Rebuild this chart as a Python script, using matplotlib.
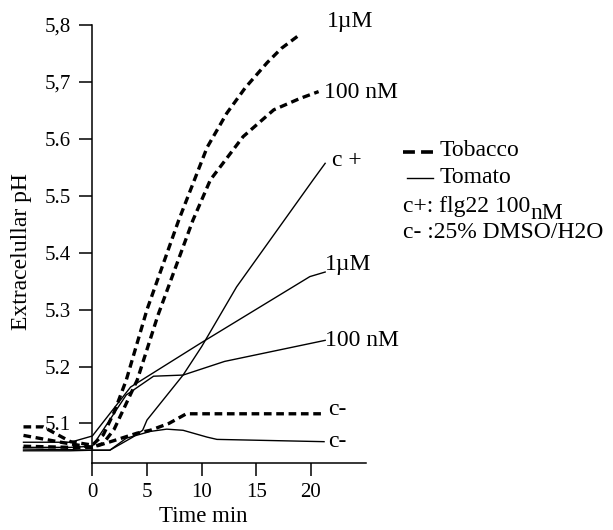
import matplotlib
matplotlib.use("Agg")
import matplotlib.pyplot as plt
from matplotlib.lines import Line2D

plt.rcParams['font.family'] = ['Liberation Serif', 'DejaVu Serif']

# ---- data (time in min, extracellular pH) ----
tob_1uM_t = [-6.3, -4.5, -2.0, 0, 1.0, 2.0, 3.1, 5.0, 7.9, 10.5, 12.3, 14.0, 16.0, 17.3, 18.9]
tob_1uM = [5.094, 5.094, 5.068, 5.062, 5.08, 5.12, 5.176, 5.30, 5.457, 5.585, 5.645, 5.69, 5.734, 5.759, 5.782]

tob_100nM_t = [-6.3, -2.3, 0, 1.0, 2.0, 4.1, 6.0, 9.2, 10.8, 13.8, 16.6, 19.0, 20.7]
tob_100nM = [5.079, 5.065, 5.058, 5.065, 5.09, 5.176, 5.29, 5.457, 5.528, 5.604, 5.651, 5.671, 5.683]

tob_cneg_t = [-6.3, -2.0, 0, 2.0, 4.1, 5.3, 7.0, 8.6, 21.1]
tob_cneg = [5.06, 5.058, 5.058, 5.07, 5.083, 5.088, 5.10, 5.117, 5.117]

tom_cpos_t = [-6.3, -2.0, 0, 1.6, 3.7, 4.6, 5.0, 8.3, 10.0, 13.2, 20.2, 21.3]
tom_cpos = [5.055, 5.054, 5.053, 5.053, 5.076, 5.088, 5.106, 5.185, 5.235, 5.34, 5.528, 5.557]

tom_cneg_t = [-6.3, -2.0, 0, 1.6, 3.1, 5.3, 6.8, 8.3, 10.5, 11.4, 21.2]
tom_cneg = [5.052, 5.052, 5.053, 5.053, 5.074, 5.086, 5.090, 5.088, 5.076, 5.072, 5.068]

tom_1uM_t = [-6.3, -2.0, 0, 3.5, 9.9, 19.9, 21.3]
tom_1uM = [5.067, 5.067, 5.078, 5.164, 5.241, 5.358, 5.366]

tom_100nM_t = [-6.3, -2.0, 0, 3.1, 5.6, 8.3, 12.1, 21.3]
tom_100nM = [5.058, 5.058, 5.06, 5.150, 5.183, 5.185, 5.209, 5.246]

x_ticks = [0, 5, 10, 15, 20]
y_ticks = [5.1, 5.2, 5.3, 5.4, 5.5, 5.6, 5.7, 5.8]
y_ticklabels = ["5.1", "5.2", "5.3", "5.4", "5.5", "5.6", "5,7", "5,8"]

# end labels: (text, t, pH baseline)
end_labels = [("1\u00b5M", 21.45, 5.796), ("100 nM", 21.2, 5.672), ("c +", 21.9, 5.553),
              ("1\u00b5M", 21.3, 5.369), ("100 nM", 21.3, 5.236),
              ("c-", 21.6, 5.114), ("c-", 21.6, 5.058)]

FS = 17
W, H = 613, 530
fig = plt.figure(figsize=(W / 100, H / 100), dpi=100)
ax = fig.add_axes([21.3 / W, 1 - 463.3 / H, 344.3 / W, 438.3 / H])
ax.set_xlim(-6.5, 25)
ax.set_ylim(5.03, 5.8)

dash_kw = dict(color='black', lw=2.4, dashes=(2.3, 1.4), dash_capstyle='butt', clip_on=False)
solid_kw = dict(color='black', lw=1.0, clip_on=False)
ax.plot(tob_1uM_t, tob_1uM, **dash_kw)
ax.plot(tob_100nM_t, tob_100nM, **dash_kw)
ax.plot(tob_cneg_t, tob_cneg, **dash_kw)
ax.plot(tom_cpos_t, tom_cpos, **solid_kw)
ax.plot(tom_cneg_t, tom_cneg, **solid_kw)
ax.plot(tom_1uM_t, tom_1uM, **solid_kw)
ax.plot(tom_100nM_t, tom_100nM, **solid_kw)

for txt, t, p in end_labels:
    ax.text(t, p, txt, ha='left', va='baseline', fontsize=FS)

for s in ['top', 'right']:
    ax.spines[s].set_visible(False)
ax.spines['left'].set_position(('data', 0))
ax.spines['left'].set_bounds(5.03, 5.8)
ax.spines['bottom'].set_bounds(0, 25)
for s in ['left', 'bottom']:
    ax.spines[s].set_linewidth(1.1)

ax.set_xticks(x_ticks)
ax.set_yticks(y_ticks)
ax.set_yticklabels(y_ticklabels)
ax.tick_params(axis='both', direction='out', length=9.5, width=1.1, labelsize=15)
ax.tick_params(axis='y', pad=6)
ax.tick_params(axis='x', pad=5)

fig.text(203 / W, 1 - 522.5 / H, "Time min", ha='center', va='baseline', fontsize=16.5)
fig.text(22 / W, 1 - 252 / H, "Extracelullar pH", ha='center', va='center', rotation=90, fontsize=FS)

# legend
fig.add_artist(Line2D([403 / W, 433 / W], [1 - 151.7 / H, 1 - 151.7 / H], color='black', lw=2.6,
                      dashes=(3.3, 1.7), dash_capstyle='butt', transform=fig.transFigure))
fig.add_artist(Line2D([407 / W, 433 / W], [1 - 178.3 / H, 1 - 178.3 / H], color='black', lw=1.0,
                      transform=fig.transFigure))
fig.text(440 / W, 1 - 156 / H, "Tobacco", ha='left', va='baseline', fontsize=FS)
fig.text(440 / W, 1 - 183.3 / H, "Tomato", ha='left', va='baseline', fontsize=FS)
t1 = fig.text(403 / W, 1 - 211.7 / H, "c+: flg22 100", ha='left', va='baseline', fontsize=FS)
ax.annotate("nM", xy=(1, 0), xycoords=t1, xytext=(0, -5.5), textcoords='offset points',
            ha='left', va='bottom', fontsize=FS, annotation_clip=False)
fig.text(403 / W, 1 - 238.3 / H, "c- :25% DMSO/H2O", ha='left', va='baseline', fontsize=FS)

fig.savefig("out.png", dpi=100)
